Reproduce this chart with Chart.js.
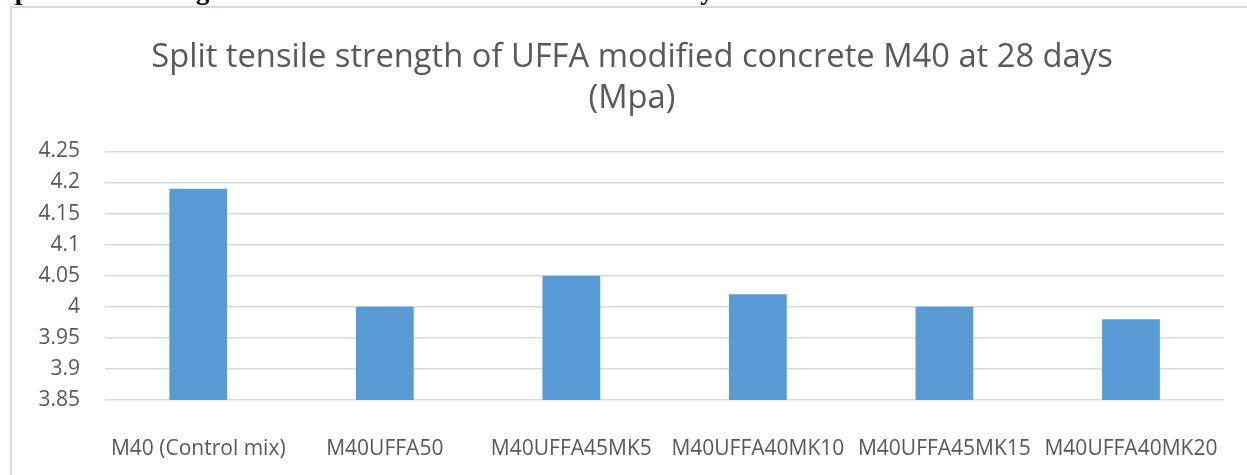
<!DOCTYPE html>
<html>
<head>
<meta charset="utf-8">
<script src="https://cdn.jsdelivr.net/npm/chart.js@4.4.1/dist/chart.umd.min.js"></script>
<style>
  html, body { margin: 0; padding: 0; background: #fff; overflow: hidden; }
  #wrap { position: relative; width: 1247px; height: 475px; }
  #caption {
    position: absolute; left: 0px; top: -23px; white-space: nowrap;
    font: bold 26.6px "Liberation Serif", "Times New Roman", serif; line-height: 26px; color: #000;
  }
  #frame {
    position: absolute; left: 10px; top: 6px; width: 1300px; height: 500px;
    border: 2px solid #d9d9d9; box-sizing: border-box;
  }
  #chart { position: absolute; left: 0; top: 0; }
</style>
</head>
<body>
<div id="wrap">
  <div id="caption">Split tensile strength of UFFA modified concrete M40 at 28 days</div>
  <div id="frame"></div>
  <canvas id="chart" width="1247" height="475"></canvas>
</div>
<script>
const categories = ["M40 (Control mix)", "M40UFFA50", "M40UFFA45MK5", "M40UFFA40MK10", "M40UFFA45MK15", "M40UFFA40MK20"]
const strength = [4.19, 4.00, 4.05, 4.02, 4.00, 3.98]
const titleLines = ["Split tensile strength of UFFA modified concrete M40 at 28 days", "(Mpa)"]
const yMin = 3.85, yMax = 4.25, yStep = 0.05

const textColor = "#595959"

new Chart(document.getElementById("chart"), {
  type: "bar",
  data: {
    labels: categories,
    datasets: [{
      label: "Split tensile strength",
      data: strength,
      backgroundColor: "#5b9bd5",
      barPercentage: 0.31,
      categoryPercentage: 1.0,
    }]
  },
  options: {
    responsive: false,
    animation: false,
    layout: { padding: { left: 36, right: 19, top: 0, bottom: 0 } },
    plugins: {
      legend: { display: false },
      tooltip: { enabled: false },
      title: {
        display: true,
        text: titleLines,
        color: textColor,
        font: { family: "'Open Sans'", size: 32.7, weight: "normal", lineHeight: 1.26 },
        padding: { top: 37, bottom: 32 },
      },
    },
    scales: {
      x: {
        grid: { display: false },
        border: { display: false },
        ticks: { color: textColor, font: { family: "'Open Sans'", size: 21 }, padding: 28, maxRotation: 0, autoSkip: false },
        afterFit: s => { s.height = 75 },
      },
      y: {
        min: yMin, max: yMax,
        grid: { color: "#d9d9d9", lineWidth: 1.5, drawTicks: false },
        border: { display: false },
        ticks: {
          stepSize: yStep,
          color: textColor,
          font: { family: "'Open Sans'", size: 21 },
          padding: 25,
          callback: v => String(Number(v.toFixed(2))),
        },
        afterFit: s => { s.width = 69 },
      },
    },
  },
})
</script>
</body>
</html>
